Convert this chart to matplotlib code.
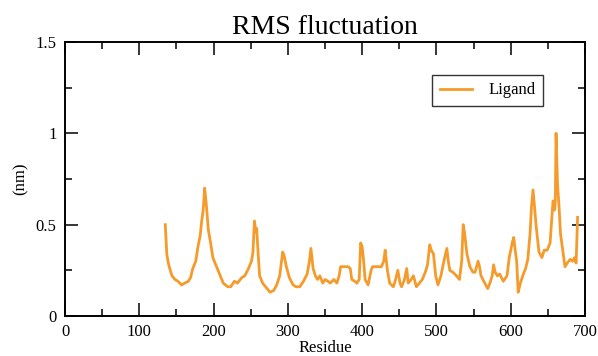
import matplotlib
matplotlib.use('Agg')
import matplotlib.pyplot as plt
from matplotlib.ticker import MultipleLocator

# values
residue = [135, 137, 139, 141, 144, 148, 152, 157, 161, 166, 169, 172, 176, 179, 182, 184, 186,
           188, 190, 193, 196, 199, 203, 206, 210, 213, 216, 219, 223, 228, 232, 238, 242,
           247, 251, 253, 255, 257, 258, 260, 262, 266, 270, 276, 281, 285, 289, 293, 295,
           298, 302, 307, 311, 316, 321, 326, 329, 331, 334, 337, 340, 343, 347, 350, 354,
           357, 362, 366, 369, 371, 376, 381, 384, 386, 390, 393, 396, 398, 400, 402, 404,
           408, 412, 414, 420, 426, 429, 431, 434, 437, 442, 445, 448, 451, 453, 457, 460,
           462, 466, 469, 473, 477, 481, 485, 488, 491, 493, 496, 499, 502, 506, 510, 514,
           516, 518, 522, 527, 531, 534, 536, 538, 541, 545, 549, 552, 556, 558, 560, 565,
           569, 572, 575, 577, 579, 582, 585, 590, 595, 598, 602, 604, 606, 608, 610, 613,
           617, 620, 623, 626, 628, 630, 632, 634, 638, 642, 645, 649, 653, 655, 657, 659,
           660, 661, 662, 663, 665, 667, 669, 673, 676, 680, 683, 686, 688, 690]
rmsf = [0.50, 0.34, 0.29, 0.26, 0.22, 0.20, 0.19, 0.17, 0.18, 0.19, 0.21, 0.26, 0.30, 0.38, 0.44,
        0.52, 0.58, 0.70, 0.62, 0.47, 0.40, 0.32, 0.28, 0.25, 0.21, 0.18, 0.17, 0.16, 0.16, 0.19,
        0.18, 0.21, 0.22, 0.26, 0.30, 0.35, 0.52, 0.46, 0.48, 0.34, 0.22, 0.18, 0.16, 0.13, 0.14,
        0.17, 0.22, 0.35, 0.33, 0.27, 0.21, 0.17, 0.16, 0.16, 0.19, 0.23, 0.30, 0.37, 0.26, 0.22,
        0.20, 0.22, 0.18, 0.20, 0.19, 0.18, 0.20, 0.18, 0.22, 0.27, 0.27, 0.27, 0.26, 0.20, 0.19,
        0.18, 0.20, 0.40, 0.38, 0.30, 0.20, 0.17, 0.25, 0.27, 0.27, 0.27, 0.30, 0.36, 0.25, 0.18,
        0.16, 0.20, 0.25, 0.18, 0.16, 0.20, 0.26, 0.18, 0.20, 0.22, 0.16, 0.18, 0.20, 0.24, 0.28,
        0.39, 0.36, 0.34, 0.22, 0.17, 0.22, 0.30, 0.37, 0.30, 0.25, 0.24, 0.22, 0.20, 0.30, 0.50,
        0.45, 0.34, 0.27, 0.24, 0.24, 0.30, 0.27, 0.22, 0.18, 0.15, 0.18, 0.22, 0.28, 0.24, 0.22,
        0.23, 0.19, 0.22, 0.32, 0.40, 0.43, 0.36, 0.30, 0.13, 0.18, 0.23, 0.26, 0.31, 0.45, 0.60,
        0.69, 0.60, 0.50, 0.35, 0.32, 0.36, 0.36, 0.40, 0.52, 0.63, 0.58, 0.62, 1.00, 0.85, 0.72,
        0.60, 0.45, 0.39, 0.27, 0.29, 0.31, 0.30, 0.32, 0.29, 0.54]

plt.rcParams['font.family'] = ['Liberation Serif', 'DejaVu Serif']

fig = plt.figure(figsize=(5.98, 3.56), dpi=100)
ax = fig.add_axes([0.1087, 0.1124, 0.8696, 0.7696])

ax.plot(residue, rmsf, color='#f59b2c', lw=2.0, label='Ligand')

ax.set_xlim(0, 700)
ax.set_ylim(0, 1.5)
ax.xaxis.set_major_locator(MultipleLocator(100))
ax.xaxis.set_minor_locator(MultipleLocator(50))
ax.yaxis.set_major_locator(MultipleLocator(0.5))
ax.yaxis.set_minor_locator(MultipleLocator(0.25))
ax.set_yticks([0, 0.5, 1, 1.5])
ax.set_yticklabels(['0', '0.5', '1', '1.5'])

ax.tick_params(which='both', direction='in', top=True, right=True, width=1.1, labelsize=12)
ax.tick_params(which='major', length=9.5, pad=6)
ax.tick_params(which='minor', length=4.7)
for s in ax.spines.values():
    s.set_linewidth(1.4)

ax.set_title('RMS fluctuation', fontsize=20, pad=6)
ax.set_xlabel('Residue', fontsize=12, labelpad=0)
ax.set_ylabel('(nm)', fontsize=12, labelpad=5)

leg = ax.legend(loc='upper right', bbox_to_anchor=(0.919, 0.88), borderaxespad=0,
                fontsize=12, frameon=True, fancybox=False, handlelength=1.9,
                borderpad=0.45, handletextpad=1.0)
leg.get_frame().set_edgecolor('black')
leg.get_frame().set_linewidth(1.0)

fig.savefig('out.png', dpi=100)
